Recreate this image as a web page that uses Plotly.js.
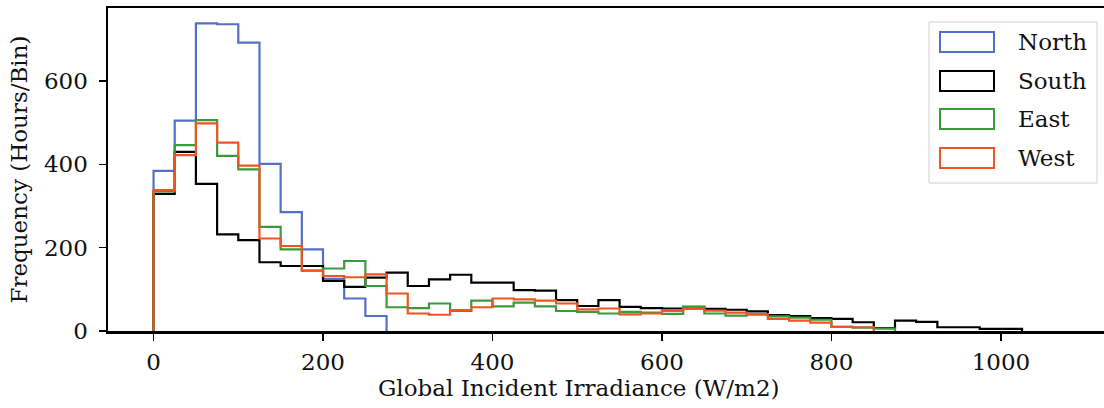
<!DOCTYPE html>
<html>
<head>
<meta charset="utf-8">
<script src="https://cdn.plot.ly/plotly-3.0.1.min.js"></script>
<style>
  html, body { margin: 0; padding: 0; background: #fff; overflow: hidden; }
  #chart { width: 1115px; height: 408px; }
</style>
</head>
<body>
<div id="chart"></div>
<script>
// Histogram counts, 25 W/m2 bins starting at 0
const binWidth = 25;
const seriesNames = ['North', 'South', 'East', 'West'];
const seriesColors = ['#5470c6', '#000000', '#3c9a3c', '#ee5522'];

const north = [384, 505, 738, 736, 692, 401, 285, 196, 125, 78, 36];
const south = [329, 430, 353, 232, 218, 165, 156, 156, 120, 106, 128, 140, 108, 124, 135, 116,
  116, 98, 97, 74, 60, 74, 58, 55, 54, 58, 53, 51, 47, 38, 36, 31, 29, 21, 7, 25, 22, 9, 9, 5, 5];
const east = [335, 446, 506, 420, 388, 250, 196, 145, 150, 168, 108, 57, 55, 66, 48, 73,
  59, 68, 59, 48, 46, 42, 46, 44, 41, 58, 42, 37, 40, 35, 32, 27, 10, 8, 6];
const west = [338, 422, 498, 452, 397, 222, 204, 145, 132, 129, 136, 90, 42, 39, 50, 57,
  78, 76, 73, 66, 52, 54, 40, 42, 48, 53, 49, 44, 40, 29, 25, 20, 10, 9];

const xTicks = [0, 200, 400, 600, 800, 1000];
const yTicks = [0, 200, 400, 600];
const xLabel = 'Global Incident Irradiance (W/m2)';
const yLabel = 'Frequency (Hours/Bin)';

// step outline like histtype='step'
function stepTrace(counts, name, color) {
  const x = [0];
  const y = [0];
  counts.forEach((c, i) => { x.push(i * binWidth); y.push(c); });
  x.push(counts.length * binWidth);
  y.push(0);
  return {
    name: name,
    type: 'scatter',
    mode: 'lines',
    x: x,
    y: y,
    line: { color: color, width: 2.2, shape: 'hv' },
    hoverinfo: 'x+y+name',
  };
}

const allCounts = [north, south, east, west];
const traces = allCounts.map((c, i) => stepTrace(c, seriesNames[i], seriesColors[i]));

// plot area in pixels
const plotL = 108, plotT = 8, plotB = 331, figW = 1115, figH = 408, plotR = 1110;
const px = v => (v - plotL) / (plotR - plotL);
const py = v => (plotB - v) / (plotB - plotT);

const font = { family: 'DejaVu Serif, Liberation Serif, serif', size: 23, color: '#111' };

// legend drawn as boxes + text
const shapes = [{
  type: 'rect', xref: 'paper', yref: 'paper',
  x0: px(929), x1: px(1097), y0: py(183), y1: py(22),
  line: { color: '#d0d0d0', width: 1 }, fillcolor: 'rgba(255,255,255,0.85)', layer: 'above',
}];
const annotations = [];
const rowY = [42, 81, 119, 158];
seriesNames.forEach((n, i) => {
  shapes.push({
    type: 'rect', xref: 'paper', yref: 'paper',
    x0: px(940), x1: px(994), y0: py(rowY[i] + 10), y1: py(rowY[i] - 10),
    line: { color: seriesColors[i], width: 2 }, fillcolor: 'rgba(0,0,0,0)', layer: 'above',
  });
  annotations.push({
    xref: 'paper', yref: 'paper', x: px(1016), y: py(rowY[i]),
    xanchor: 'left', yanchor: 'middle', showarrow: false,
    text: n, font: font,
  });
});

// x label sits left of the axes centre in the source figure
annotations.push({
  xref: 'paper', yref: 'paper', x: px(579), y: py(388),
  xanchor: 'center', yanchor: 'middle', showarrow: false,
  text: xLabel, font: font,
});

const layout = {
  width: figW,
  height: figH,
  margin: { l: plotL, r: figW - plotR, t: plotT, b: figH - plotB },
  paper_bgcolor: '#fff',
  plot_bgcolor: '#fff',
  font: font,
  showlegend: false,
  xaxis: {
    range: [-53.75, 1128.75],
    tickvals: xTicks,
    ticks: 'outside', ticklen: 7, tickwidth: 1.5, tickcolor: '#000',
    ticklabelstandoff: 2,
    showline: true, mirror: true, linewidth: 2.5, linecolor: '#000',
    showgrid: false, zeroline: false,
    automargin: false,
  },
  yaxis: {
    range: [0, 775],
    tickvals: yTicks,
    ticks: 'outside', ticklen: 7, tickwidth: 1.5, tickcolor: '#000',
    ticklabelstandoff: 6,
    showline: true, mirror: true, linewidth: 2.5, linecolor: '#000',
    showgrid: false, zeroline: false,
    title: { text: yLabel, font: font, standoff: 10 },
    automargin: false,
  },
  shapes: shapes,
  annotations: annotations,
};

Plotly.newPlot('chart', traces, layout, { displayModeBar: false, staticPlot: true });
</script>
</body>
</html>
